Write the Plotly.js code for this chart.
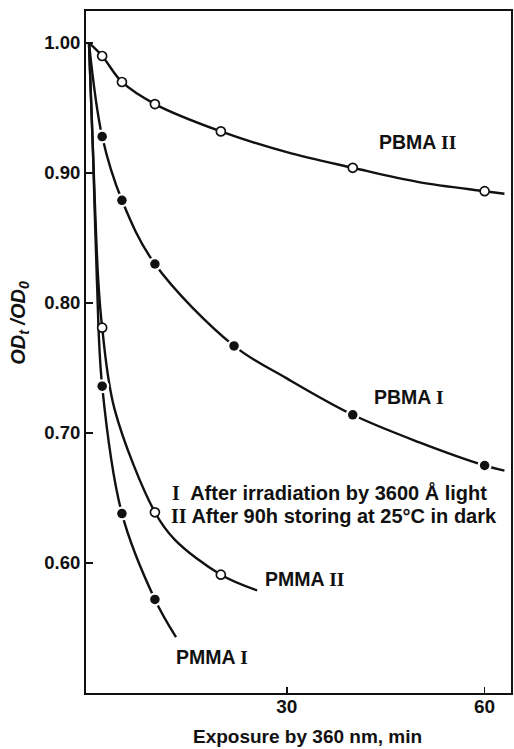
<!DOCTYPE html>
<html>
<head>
<meta charset="utf-8">
<script src="https://cdn.plot.ly/plotly-3.0.1.min.js"></script>
<style>html,body{margin:0;padding:0;background:#fff;}#chart{width:514px;height:749px;}</style>
</head>
<body>
<div id="chart"></div>
<script>
// Measured points (exposure time, min ; OD_t/OD_0)
const pbma2T = [2, 5, 10, 20, 40, 60];
const pbma2OD = [0.990, 0.970, 0.953, 0.932, 0.904, 0.886];
const pbma1T = [2, 5, 10, 22, 40, 60];
const pbma1OD = [0.928, 0.879, 0.830, 0.767, 0.714, 0.675];
const pmma2T = [2, 10, 20];
const pmma2OD = [0.781, 0.639, 0.591];
const pmma1T = [2, 5, 10];
const pmma1OD = [0.736, 0.638, 0.572];

// Points
const pbma2CurveT = [0, 2, 5, 10, 20, 30, 40, 50, 60, 63];
const pbma2CurveOD = [1.0, 0.990, 0.970, 0.953, 0.932, 0.916, 0.904, 0.893, 0.886, 0.884];
const pbma1CurveT = [0, 2, 5, 10, 22, 30, 40, 50, 60, 63];
const pbma1CurveOD = [1.0, 0.928, 0.879, 0.830, 0.767, 0.742, 0.714, 0.693, 0.675, 0.671];
const pmma2CurveT = [0, 0.6, 1.4, 2, 3.9, 10, 13, 20, 25.5];
const pmma2CurveOD = [1.0, 0.918, 0.818, 0.781, 0.718, 0.639, 0.618, 0.591, 0.579];
const pmma1CurveT = [0, 0.6, 1.2, 2, 5, 10, 13.2];
const pmma1CurveOD = [1.0, 0.918, 0.818, 0.736, 0.638, 0.572, 0.543];

const yTicks = [0.6, 0.7, 0.8, 0.9, 1.0];
const yTickText = ['0.60', '0.70', '0.80', '0.90', '1.00'];
const xTicks = [30, 60];
const xTickText = ['30', '60'];

const seriesLabels = ['PBMA II', 'PBMA I', 'PMMA II', 'PMMA I'];
const noteLines = ['I After irradiation by 3600 Å light', 'II After 90h storing at 25°C in dark'];

const ink = '#111';
const FONT = 'Liberation Sans, Arial, sans-serif';

function curve(x, y) {
  return {x: x, y: y, mode: 'lines', type: 'scatter', hoverinfo: 'skip',
          line: {color: ink, width: 2.4, shape: 'spline', smoothing: 1}};
}
function halo(x, y) {
  return {x: x, y: y, mode: 'markers', type: 'scatter', hoverinfo: 'skip',
          marker: {symbol: 'circle', size: 14, color: '#fff', line: {width: 0}}};
}
function filled(x, y) {
  return {x: x, y: y, mode: 'markers', type: 'scatter',
          marker: {symbol: 'circle', size: 9.5, color: ink, line: {width: 0}}};
}
function open(x, y) {
  return {x: x, y: y, mode: 'markers', type: 'scatter',
          marker: {symbol: 'circle', size: 9, color: '#fff', line: {width: 1.7, color: ink}}};
}

const data = [
  curve(pbma2CurveT, pbma2CurveOD),
  curve(pbma1CurveT, pbma1CurveOD),
  curve(pmma2CurveT, pmma2CurveOD),
  curve(pmma1CurveT, pmma1CurveOD),
  halo(pbma1T, pbma1OD),
  halo(pmma1T, pmma1OD),
  open(pbma2T, pbma2OD),
  filled(pbma1T, pbma1OD),
  open(pmma2T, pmma2OD),
  filled(pmma1T, pmma1OD)
];

function roman(label) {
  const parts = label.split(' ');
  const num = parts.pop();
  return parts.join(' ') + ' <span style="font-family:Liberation Serif, serif">' + num + '</span>';
}

const labelFont = {family: FONT, size: 19.5, color: ink, weight: 'bold'};
const annotations = [
  {x: 49.8, y: 0.924, text: roman(seriesLabels[0])},
  {x: 48.6, y: 0.728, text: roman(seriesLabels[1])},
  {x: 32.7, y: 0.588, text: roman(seriesLabels[2])},
  {x: 18.6, y: 0.528, text: roman(seriesLabels[3])}
].map(a => Object.assign({xref: 'x', yref: 'y', showarrow: false, font: labelFont,
                          xanchor: 'center', yanchor: 'middle'}, a));

const noteFont = {family: FONT, size: 20, color: ink, weight: 'bold'};
annotations.push({xref: 'x', yref: 'y', x: 12.3, y: 0.6545, xanchor: 'left', yanchor: 'middle',
  showarrow: false, font: noteFont,
  text: '<span style="font-family:Liberation Serif, serif">I</span>  ' + noteLines[0].slice(2)});
annotations.push({xref: 'x', yref: 'y', x: 12.2, y: 0.636, xanchor: 'left', yanchor: 'middle',
  showarrow: false, font: noteFont,
  text: '<span style="font-family:Liberation Serif, serif">II</span> ' + noteLines[1].slice(3)});

// axis titles
annotations.push({xref: 'paper', yref: 'paper', x: 0.52, y: -0.0645, xanchor: 'center', yanchor: 'middle',
  showarrow: false, borderpad: 0, font: {family: FONT, size: 19, color: ink, weight: 'bold'},
  text: 'Exposure by 360 nm, min'});
annotations.push({xref: 'paper', yref: 'paper', x: -0.158, y: 0.5425, xanchor: 'center', yanchor: 'middle',
  showarrow: false, textangle: -90, font: {family: FONT, size: 20, color: ink, weight: 'bold'},
  text: '<i>OD<sub>t</sub> /OD<sub>0</sub></i>'});

const layout = {
  width: 514, height: 749,
  margin: {l: 86, r: 3, t: 11, b: 56},
  paper_bgcolor: '#fff', plot_bgcolor: '#fff',
  showlegend: false,
  xaxis: {
    range: [-0.45, 64], showgrid: false, zeroline: false,
    showline: true, linecolor: ink, linewidth: 2.4, mirror: true,
    ticks: 'inside', ticklen: 6, tickwidth: 1.5, tickcolor: ink,
    tickvals: xTicks, ticktext: xTickText, ticklabelstandoff: -5,
    tickfont: {family: FONT, size: 19, color: ink, weight: 'bold'}
  },
  yaxis: {
    range: [0.5, 1.0246], showgrid: false, zeroline: false,
    showline: true, linecolor: ink, linewidth: 2, mirror: true,
    ticks: 'inside', ticklen: 7, tickwidth: 1.5, tickcolor: ink,
    tickvals: yTicks, ticktext: yTickText,
    tickfont: {family: FONT, size: 18.5, color: ink, weight: 'bold'}
  },
  annotations: annotations
};

Plotly.newPlot('chart', data, layout, {displayModeBar: false, staticPlot: true});
</script>
</body>
</html>
